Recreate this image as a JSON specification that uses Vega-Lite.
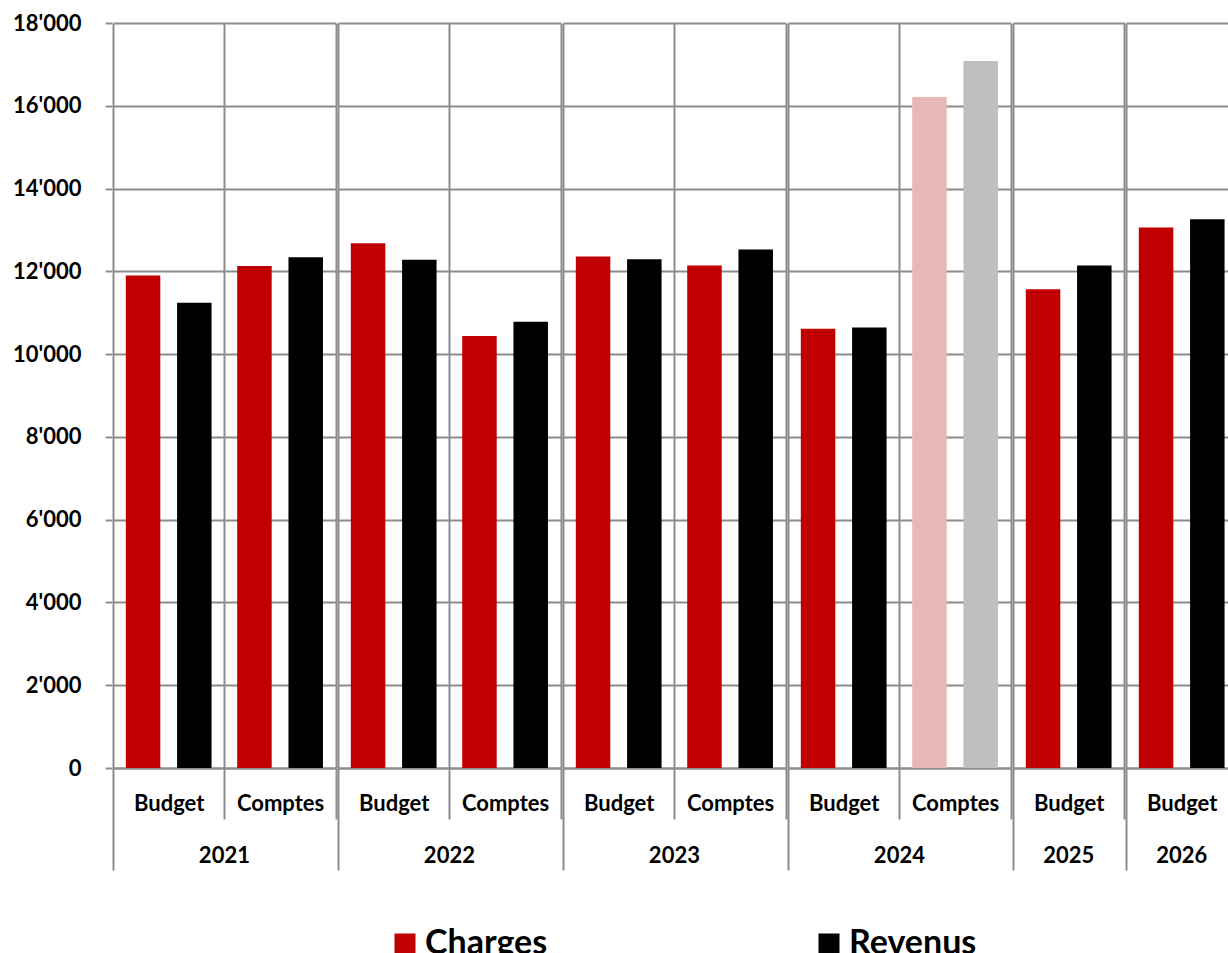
{
  "$schema": "https://vega.github.io/schema/vega-lite/v6.json",
  "padding": {"left": 12, "top": 12, "right": 0, "bottom": 0},
  "background": "white",
  "data": {"values": [
    {"annee": "2021", "type": "Budget", "serie": "Charges", "valeur": 11900},
    {"annee": "2021", "type": "Budget", "serie": "Revenus", "valeur": 11240},
    {"annee": "2021", "type": "Comptes", "serie": "Charges", "valeur": 12130},
    {"annee": "2021", "type": "Comptes", "serie": "Revenus", "valeur": 12340},
    {"annee": "2022", "type": "Budget", "serie": "Charges", "valeur": 12680},
    {"annee": "2022", "type": "Budget", "serie": "Revenus", "valeur": 12280},
    {"annee": "2022", "type": "Comptes", "serie": "Charges", "valeur": 10440},
    {"annee": "2022", "type": "Comptes", "serie": "Revenus", "valeur": 10780},
    {"annee": "2023", "type": "Budget", "serie": "Charges", "valeur": 12360},
    {"annee": "2023", "type": "Budget", "serie": "Revenus", "valeur": 12290},
    {"annee": "2023", "type": "Comptes", "serie": "Charges", "valeur": 12140},
    {"annee": "2023", "type": "Comptes", "serie": "Revenus", "valeur": 12530},
    {"annee": "2024", "type": "Budget", "serie": "Charges", "valeur": 10610},
    {"annee": "2024", "type": "Budget", "serie": "Revenus", "valeur": 10640},
    {"annee": "2024", "type": "Comptes", "serie": "Charges", "valeur": 16210},
    {"annee": "2024", "type": "Comptes", "serie": "Revenus", "valeur": 17080},
    {"annee": "2025", "type": "Budget", "serie": "Charges", "valeur": 11570},
    {"annee": "2025", "type": "Budget", "serie": "Revenus", "valeur": 12140},
    {"annee": "2026", "type": "Budget", "serie": "Charges", "valeur": 13060},
    {"annee": "2026", "type": "Budget", "serie": "Revenus", "valeur": 13260}
  ]},
  "facet": {
    "column": {
      "field": "annee", "type": "ordinal",
      "header": {"title": null, "labelOrient": "bottom", "labelFont": "Lato", "labelFontWeight": "bold", "labelFontSize": 22, "labelColor": "black", "labelPadding": -25}
    }
  },
  "spacing": 0,
  "resolve": {"scale": {"x": "independent"}},
  "spec": {
    "width": {"step": 51.26},
    "height": 745,
    "mark": {"type": "bar"},
    "encoding": {
      "x": {
        "field": "type", "type": "nominal", "sort": ["Budget", "Comptes"],
        "scale": {"paddingInner": 0, "paddingOuter": 0},
        "axis": {
          "title": null, "labelAngle": 0, "tickBand": "extent",
          "grid": true, "gridColor": "#8c8c8c", "gridWidth": 2,
          "domainColor": "#8c8c8c", "domainWidth": 2,
          "tickColor": "#8c8c8c", "tickWidth": 2,
          "tickSize": {"condition": {"test": "datum.index < 0", "value": 102}, "value": 51},
          "labelFont": "Lato", "labelFontWeight": "bold", "labelFontSize": 22, "labelColor": "black", "labelPadding": -26
        }
      },
      "xOffset": {
        "field": "serie", "type": "nominal", "sort": ["Charges", "Revenus"],
        "scale": {"paddingInner": 0.327, "paddingOuter": 0.25}
      },
      "y": {
        "field": "valeur", "type": "quantitative",
        "scale": {"domain": [0, 18000]},
        "axis": {
          "title": null, "values": [0, 2000, 4000, 6000, 8000, 10000, 12000, 14000, 16000, 18000],
          "labelExpr": "replace(format(datum.value, ','), ',', \"'\")",
          "domain": false, "grid": true, "gridColor": "#8c8c8c", "gridWidth": 2,
          "tickColor": "#8c8c8c", "tickWidth": 2, "tickSize": 7, "labelPadding": 24,
          "labelFont": "Lato", "labelFontWeight": "bold", "labelFontSize": 22, "labelColor": "black"
        }
      },
      "color": {
        "condition": [
          {"test": "datum.annee === '2024' && datum.type === 'Comptes' && datum.serie === 'Charges'", "value": "#E6B8B7"},
          {"test": "datum.annee === '2024' && datum.type === 'Comptes' && datum.serie === 'Revenus'", "value": "#BFBFBF"}
        ],
        "field": "serie", "type": "nominal",
        "scale": {"domain": ["Charges", "Revenus"], "range": ["#C00000", "#000000"]},
        "legend": {"title": null, "orient": "none", "legendX": 275, "legendY": 904}
      }
    }
  },
  "config": {
    "view": {"stroke": null},
    "legend": {
      "direction": "horizontal", "symbolType": "square", "symbolSize": 441,
      "symbolStrokeWidth": 0, "labelFont": "Lato", "labelFontWeight": "bold", "labelFontSize": 34,
      "labelColor": "black", "labelOffset": 3, "columnPadding": 264, "labelLimit": 400
    }
  }
}
